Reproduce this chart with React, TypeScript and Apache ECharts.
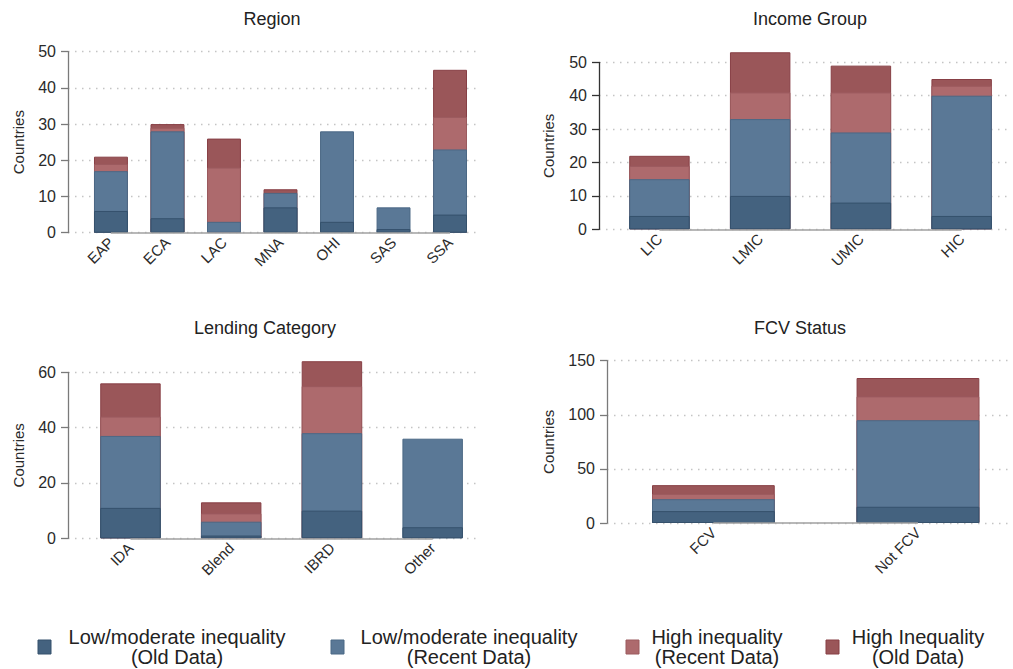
import React, { useEffect, useRef } from "react";
import * as echarts from "echarts";

// ---- Data: country counts per group, split into four inequality classes ----
const REGION_CATEGORIES = ["EAP", "ECA", "LAC", "MNA", "OHI", "SAS", "SSA"];
const REGION_LOW_OLD = [6, 4, 0, 7, 3, 1, 5];
const REGION_LOW_RECENT = [11, 24, 3, 4, 25, 6, 18];
const REGION_HIGH_RECENT = [2, 1, 15, 0, 0, 0, 9];
const REGION_HIGH_OLD = [2, 1, 8, 1, 0, 0, 13];

const INCOME_CATEGORIES = ["LIC", "LMIC", "UMIC", "HIC"];
const INCOME_LOW_OLD = [4, 10, 8, 4];
const INCOME_LOW_RECENT = [11, 23, 21, 36];
const INCOME_HIGH_RECENT = [4, 8, 12, 3];
const INCOME_HIGH_OLD = [3, 12, 8, 2];

const LENDING_CATEGORIES = ["IDA", "Blend", "IBRD", "Other"];
const LENDING_LOW_OLD = [11, 1, 10, 4];
const LENDING_LOW_RECENT = [26, 5, 28, 32];
const LENDING_HIGH_RECENT = [7, 3, 17, 0];
const LENDING_HIGH_OLD = [12, 4, 9, 0];

const FCV_CATEGORIES = ["FCV", "Not FCV"];
const FCV_LOW_OLD = [11, 15];
const FCV_LOW_RECENT = [11, 80];
const FCV_HIGH_RECENT = [5, 22];
const FCV_HIGH_OLD = [8, 17];

const PANEL_TITLES = ["Region", "Income Group", "Lending Category", "FCV Status"];
const Y_AXIS_NAME = "Countries";

const LEGEND_LABELS = [
  "Low/moderate inequality\n(Old Data)",
  "Low/moderate inequality\n(Recent Data)",
  "High inequality\n(Recent Data)",
  "High Inequality\n(Old Data)",
];

// Fill / outline per class, in stacking order (bottom to top)
const CLASS_COLORS = ["#44627f", "#5a7896", "#ad6a6d", "#9a5659"];
const CLASS_BORDERS = ["#35516c", "#4b6885", "#9b5a5e", "#873f45"];

const FONT = "'Liberation Sans', Arial, sans-serif";

type Panel = {
  categories: string[];
  segments: number[][]; // [lowOld, lowRecent, highRecent, highOld]
  yMax: number;
  yInterval: number;
  grid: { left: number; top: number; width: number; height: number };
  xMin: number;
  xMax: number;
  nameGap: number;
  axisColor: string;
  titleX: number;
  titleY: number;
};

const PANELS: Panel[] = [
  {
    categories: REGION_CATEGORIES,
    segments: [REGION_LOW_OLD, REGION_LOW_RECENT, REGION_HIGH_RECENT, REGION_HIGH_OLD],
    yMax: 50,
    yInterval: 10,
    grid: { left: 68, top: 51.7, width: 412, height: 181 },
    xMin: -0.76,
    xMax: 6.53,
    nameGap: 42,
    axisColor: "#7a7a7a",
    titleX: 272,
    titleY: 19,
  },
  {
    categories: INCOME_CATEGORIES,
    segments: [INCOME_LOW_OLD, INCOME_LOW_RECENT, INCOME_HIGH_RECENT, INCOME_HIGH_OLD],
    yMax: 50,
    yInterval: 10,
    grid: { left: 599, top: 62.3, width: 411, height: 167 },
    xMin: -0.6,
    xMax: 3.48,
    nameGap: 43,
    axisColor: "#333333",
    titleX: 810,
    titleY: 19,
  },
  {
    categories: LENDING_CATEGORIES,
    segments: [LENDING_LOW_OLD, LENDING_LOW_RECENT, LENDING_HIGH_RECENT, LENDING_HIGH_OLD],
    yMax: 60,
    yInterval: 20,
    grid: { left: 68, top: 372.3, width: 412, height: 166 },
    xMin: -0.62,
    xMax: 3.47,
    nameGap: 42,
    axisColor: "#7a7a7a",
    titleX: 265,
    titleY: 328,
  },
  {
    categories: FCV_CATEGORIES,
    segments: [FCV_LOW_OLD, FCV_LOW_RECENT, FCV_HIGH_RECENT, FCV_HIGH_OLD],
    yMax: 150,
    yInterval: 50,
    grid: { left: 607, top: 360.7, width: 403, height: 162.3 },
    xMin: -0.52,
    xMax: 1.45,
    nameGap: 51,
    axisColor: "#7a7a7a",
    titleX: 800,
    titleY: 328,
  },
];

const LEGEND_SWATCH_X = [38, 331, 626, 826];
const LEGEND_TEXT_X = [177, 469, 717, 918];
const LEGEND_Y = 647;

function buildOption() {
  const grids: any[] = [];
  const xAxes: any[] = [];
  const yAxes: any[] = [];
  const series: any[] = [];
  const graphics: any[] = [];

  PANELS.forEach((p, pi) => {
    grids.push({ ...p.grid, containLabel: false });

    const idx = p.categories.map((_, i) => i);
    xAxes.push({
      type: "value",
      gridIndex: pi,
      min: p.xMin,
      max: p.xMax,
      axisLine: { show: false, onZero: false },
      axisTick: { show: false },
      splitLine: { show: false },
      axisLabel: {
        customValues: idx,
        formatter: (v: number) => p.categories[Math.round(v)] ?? "",
        rotate: 45,
        margin: 7,
        fontSize: 15,
        fontFamily: FONT,
        color: "#2a2a2a",
      },
    });

    yAxes.push({
      type: "value",
      gridIndex: pi,
      min: 0,
      max: p.yMax,
      interval: p.yInterval,
      name: Y_AXIS_NAME,
      nameLocation: "middle",
      nameGap: p.nameGap,
      nameTextStyle: { fontSize: 15, fontFamily: FONT, color: "#2a2a2a" },
      axisLine: { show: true, onZero: false, lineStyle: { color: p.axisColor, width: 1.3 } },
      axisTick: { show: true, length: 7, lineStyle: { color: p.axisColor, width: 1.3 } },
      axisLabel: { fontSize: 16, fontFamily: FONT, color: "#2a2a2a", margin: 12 },
      splitLine: {
        show: true,
        lineStyle: { color: "#c4c4c4", width: 1.3, type: [1.5, 5.5] },
      },
    });

    // Cumulative heights: each class is drawn as a bar from zero to its running
    // total, tallest first, so the lower classes sit over the upper ones.
    const cumulative: number[][] = [];
    p.segments.forEach((seg, k) => {
      cumulative.push(seg.map((v, i) => v + (k > 0 ? cumulative[k - 1][i] : 0)));
    });

    for (let k = p.segments.length - 1; k >= 0; k--) {
      const s: any = {
        type: "bar",
        name: LEGEND_LABELS[k].replace("\n", " "),
        xAxisIndex: pi,
        yAxisIndex: pi,
        barWidth: "60%",
        barGap: "-100%",
        clip: false,
        silent: true,
        itemStyle: {
          color: CLASS_COLORS[k],
          borderColor: CLASS_BORDERS[k],
          borderWidth: 1,
        },
        data: idx.map((i) => [i, p.segments[k][i] === 0 ? "-" : cumulative[k][i]]),
      };
      if (k === p.segments.length - 1) {
        // baseline running between the first and last category
        s.markLine = {
          silent: true,
          symbol: "none",
          label: { show: false },
          lineStyle: { color: "#a0a0a0", width: 1.5, type: "solid" },
          data: [[{ coord: [0, 0] }, { coord: [p.categories.length - 1, 0] }]],
        };
      }
      series.push(s);
    }

    graphics.push({
      type: "text",
      x: p.titleX,
      y: p.titleY,
      style: {
        text: PANEL_TITLES[pi],
        font: `18px ${FONT}`,
        fill: "#222",
        textAlign: "center",
        textVerticalAlign: "middle",
      },
    });
  });

  LEGEND_LABELS.forEach((label, k) => {
    graphics.push({
      type: "rect",
      shape: { x: LEGEND_SWATCH_X[k], y: LEGEND_Y - 7, width: 13, height: 14 },
      style: { fill: CLASS_COLORS[k], stroke: CLASS_BORDERS[k], lineWidth: 1 },
    });
    graphics.push({
      type: "text",
      x: LEGEND_TEXT_X[k],
      y: LEGEND_Y,
      style: {
        text: label,
        font: `20px ${FONT}`,
        lineHeight: 20,
        fill: "#222",
        textAlign: "center",
        textVerticalAlign: "middle",
      },
    });
  });

  return {
    animation: false,
    backgroundColor: "#ffffff",
    grid: grids,
    xAxis: xAxes,
    yAxis: yAxes,
    series,
    graphic: graphics,
  };
}

export default function App() {
  const ref = useRef<HTMLDivElement>(null);

  useEffect(() => {
    if (!ref.current) return;
    const chart = echarts.init(ref.current, null, { renderer: "svg" });
    chart.setOption(buildOption());
    return () => chart.dispose();
  }, []);

  return (
    <div
      ref={ref}
      style={{ position: "fixed", left: 0, top: 0, width: 1013, height: 669, background: "#fff" }}
    />
  );
}
